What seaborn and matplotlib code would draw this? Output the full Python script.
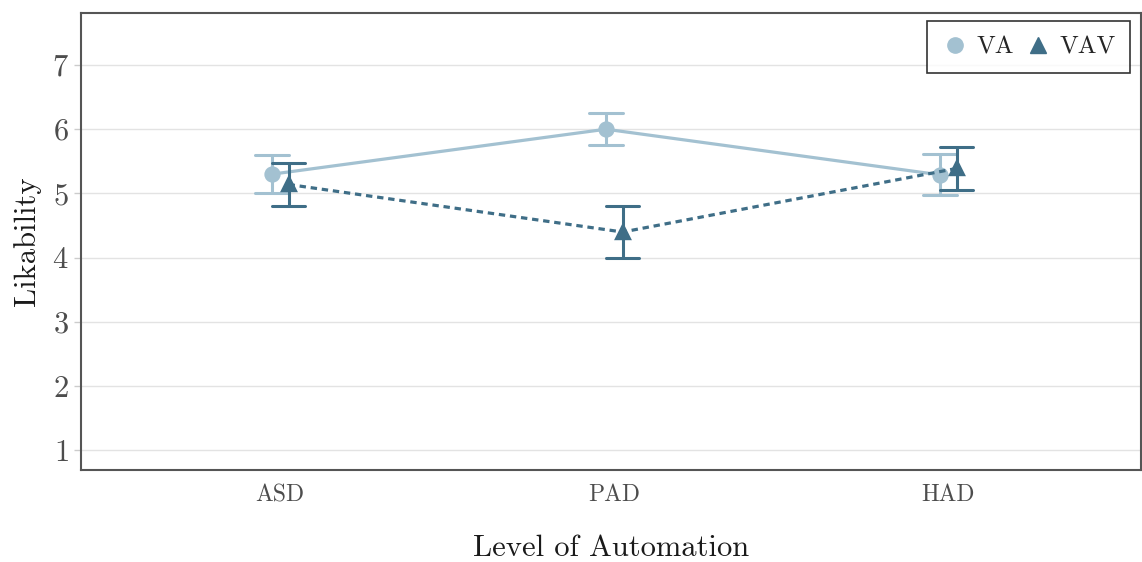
import numpy as np
import pandas as pd
import seaborn as sns
import matplotlib
matplotlib.use("Agg")
import matplotlib.pyplot as plt
from matplotlib.lines import Line2D

levels = ["ASD", "PAD", "HAD"]
groups = ["VA", "VAV"]
va_mean = [5.30, 6.00, 5.29]
va_err = [0.30, 0.245, 0.32]
vav_mean = [5.14, 4.40, 5.39]
vav_err = [0.33, 0.40, 0.335]

colors = {"VA": "#a3c1d1", "VAV": "#3f6e87"}

rows = []
for g, means, errs in [("VA", va_mean, va_err), ("VAV", vav_mean, vav_err)]:
    for lv, m, e in zip(levels, means, errs):
        for v in (m - e, m, m + e):
            rows.append({"Level": lv, "Group": g, "Likability": v})
df = pd.DataFrame(rows)

sns.set_theme(style="white")
plt.rcParams["font.family"] = "serif"
plt.rcParams["font.serif"] = ["cmr10", "DejaVu Serif"]
plt.rcParams["axes.formatter.use_mathtext"] = True
plt.rcParams["mathtext.fontset"] = "cm"

fig, ax = plt.subplots(figsize=(11.42, 5.62), dpi=100)
fig.subplots_adjust(left=0.071, right=0.9995, top=0.977, bottom=0.163)

sns.pointplot(data=df, x="Level", y="Likability", hue="Group", order=levels,
              hue_order=groups, palette=colors, markers=["o", "^"],
              linestyles=["-", (0, (2, 1.5))], dodge=0.05,
              errorbar=lambda x: (x.min(), x.max()), capsize=0.1,
              err_kws={"linewidth": 2.2}, linewidth=2.3, markersize=10,
              ax=ax, legend=False)

ax.set_xlim(-0.596, 2.578)
ax.set_ylim(0.69, 7.81)
ax.set_yticks([1, 2, 3, 4, 5, 6, 7])
ax.yaxis.grid(True, color="#e3e3e3", linewidth=1)
ax.set_axisbelow(True)
for s in ax.spines.values():
    s.set_color("#555555")
    s.set_linewidth(1.5)
ax.tick_params(axis="y", labelsize=22, labelcolor="#4d4d4d", length=5,
               color="#cccccc", left=True, width=1, pad=4)
ax.tick_params(axis="x", labelsize=17, labelcolor="#4d4d4d", length=0, pad=10)
ax.set_xlabel("Level of Automation", fontsize=22, labelpad=20, color="#1a1a1a")
ax.set_ylabel("Likability", fontsize=22, labelpad=8, color="#1a1a1a")

handles = [Line2D([], [], marker="o", color=colors["VA"], linestyle="none", markersize=11),
           Line2D([], [], marker="^", color=colors["VAV"], linestyle="none", markersize=12)]
leg = ax.legend(handles, groups, loc="upper right", ncol=2, fontsize=18,
                frameon=True, fancybox=False, handletextpad=0.3,
                columnspacing=0.4, borderpad=0.6, handlelength=1.1,
                borderaxespad=0, bbox_to_anchor=(0.9896, 0.9825))
leg.get_frame().set_edgecolor("black")
leg.get_frame().set_linewidth(1.2)

fig.savefig("out.png", dpi=100)
